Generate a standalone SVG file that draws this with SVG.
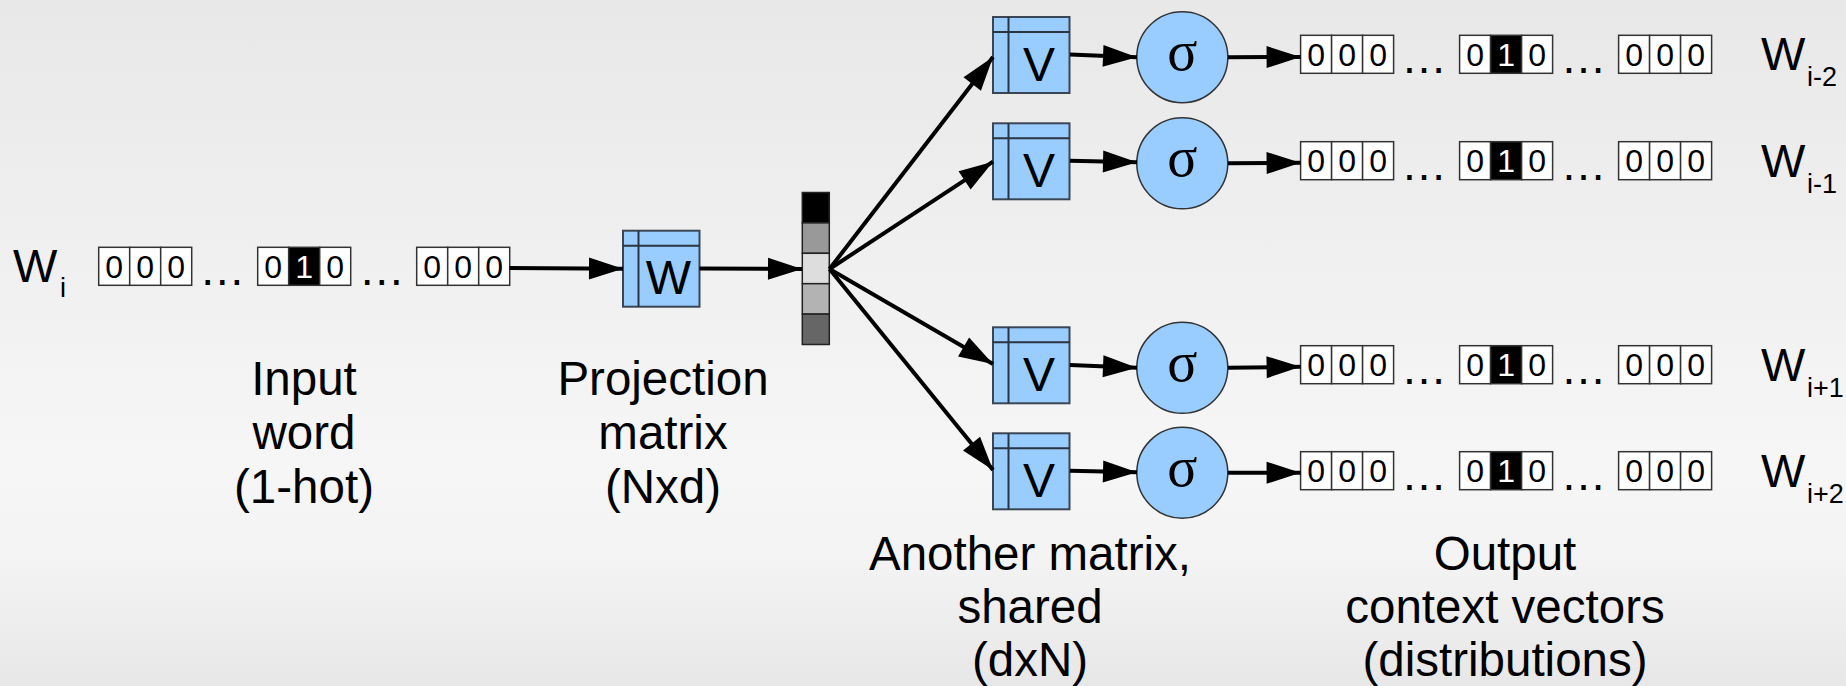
<svg xmlns="http://www.w3.org/2000/svg" xmlns:xlink="http://www.w3.org/1999/xlink" width="1846" height="686" viewBox="0 0 1846 686">
<style>
.t{font-family:"Liberation Sans",Arial,sans-serif;fill:#000}
.big{font-size:47px}
.sub{font-size:27px}
.lbl{font-size:47.5px;text-anchor:middle}
.dig{font-family:"Liberation Sans",Arial,sans-serif;font-size:32px;text-anchor:middle}
.cell{fill:#fff;stroke:#333;stroke-width:1.5}
.hot{fill:#000;stroke:#333;stroke-width:1.5}
.mat{fill:#99ccff;stroke:#3a4654;stroke-width:2}
.matl{stroke:#2a3440;stroke-width:2;fill:none}
.mletter{font-family:"Liberation Sans",Arial,sans-serif;font-size:48px;text-anchor:middle}
.sig{fill:#99ccff;stroke:#333;stroke-width:1.5}
.sigt{font-family:"Liberation Serif","Times New Roman",serif;font-size:56px;text-anchor:middle}
.arr{stroke:#000;stroke-width:4;fill:none;marker-end:url(#ah)}
.dots{font-family:"Liberation Sans",Arial,sans-serif;font-size:46px;text-anchor:middle}
</style>
<defs>
<linearGradient id="bg" x1="0" y1="0" x2="0" y2="1">
<stop offset="0" stop-color="#e8e8e8"/>
<stop offset="0.68" stop-color="#f6f6f6"/>
<stop offset="0.82" stop-color="#f3f3f3"/>
<stop offset="1" stop-color="#e7e7e7"/>
</linearGradient>
<marker id="ah" markerUnits="userSpaceOnUse" markerWidth="36" markerHeight="24" refX="34" refY="11" orient="auto" overflow="visible">
<path d="M0,0 L34,11 L0,22 Z" fill="#000"/>
</marker>
<g id="onehot">
<rect class="cell" x="0" y="0" width="31" height="38"/>
<rect class="cell" x="31" y="0" width="31" height="38"/>
<rect class="cell" x="62" y="0" width="31" height="38"/>
<text class="dig" x="15.5" y="30.5">0</text>
<text class="dig" x="46.5" y="30.5">0</text>
<text class="dig" x="77.5" y="30.5">0</text>
<text class="dots" x="123.5" y="38">…</text>
<rect class="cell" x="159" y="0" width="31" height="38"/>
<rect class="hot" x="190" y="0" width="31" height="38"/>
<rect class="cell" x="221" y="0" width="31" height="38"/>
<text class="dig" x="174.5" y="30.5">0</text>
<text class="dig" x="205.5" y="30.5" fill="#fff">1</text>
<text class="dig" x="236.5" y="30.5">0</text>
<text class="dots" x="283" y="38">…</text>
<rect class="cell" x="318" y="0" width="31" height="38"/>
<rect class="cell" x="349" y="0" width="31" height="38"/>
<rect class="cell" x="380" y="0" width="31" height="38"/>
<text class="dig" x="333.5" y="30.5">0</text>
<text class="dig" x="364.5" y="30.5">0</text>
<text class="dig" x="395.5" y="30.5">0</text>
</g>
<g id="vmat">
<rect class="mat" x="0" y="0" width="76.5" height="76"/>
<line class="matl" x1="15.5" y1="0" x2="15.5" y2="76"/>
<line class="matl" x1="0" y1="15" x2="76.5" y2="15"/>
</g>
</defs>
<rect x="0" y="0" width="1846" height="686" fill="url(#bg)"/>

<g id="input-label">
<text class="t big" x="13" y="282">W</text>
<text class="t sub" x="60" y="297">i</text>
</g>
<g id="input-vector">
<use xlink:href="#onehot" x="98.7" y="247.3"/>
</g>

<g id="W-matrix">
<use xlink:href="#vmat" x="623" y="230.7"/>
<text class="mletter" x="668.5" y="293.5">W</text>
</g>

<g id="projection-vector">
<rect x="802.3" y="192.5" width="27" height="30.4" fill="#000" stroke="#222" stroke-width="1.5"/>
<rect x="802.3" y="222.9" width="27" height="30.4" fill="#999" stroke="#222" stroke-width="1.5"/>
<rect x="802.3" y="253.3" width="27" height="30.4" fill="#ddd" stroke="#222" stroke-width="1.5"/>
<rect x="802.3" y="283.7" width="27" height="30.4" fill="#b3b3b3" stroke="#222" stroke-width="1.5"/>
<rect x="802.3" y="314.1" width="27" height="30.4" fill="#666" stroke="#222" stroke-width="1.5"/>
</g>

<g id="V1"><use xlink:href="#vmat" x="993" y="17"/><text class="mletter" x="1039" y="80.5">V</text></g>
<g id="V2"><use xlink:href="#vmat" x="993" y="123.3"/><text class="mletter" x="1039" y="186.8">V</text></g>
<g id="V3"><use xlink:href="#vmat" x="993" y="327.3"/><text class="mletter" x="1039" y="390.8">V</text></g>
<g id="V4"><use xlink:href="#vmat" x="993" y="433.3"/><text class="mletter" x="1039" y="496.8">V</text></g>

<g id="sigma1"><circle class="sig" cx="1182.3" cy="57.2" r="45.5"/><text class="sigt" x="1182.3" y="70">σ</text></g>
<g id="sigma2"><circle class="sig" cx="1182.3" cy="163.3" r="45.5"/><text class="sigt" x="1182.3" y="176">σ</text></g>
<g id="sigma3"><circle class="sig" cx="1182.3" cy="367.8" r="45.5"/><text class="sigt" x="1182.3" y="380.6">σ</text></g>
<g id="sigma4"><circle class="sig" cx="1182.3" cy="472.8" r="45.5"/><text class="sigt" x="1182.3" y="485.6">σ</text></g>

<g id="out1"><use xlink:href="#onehot" x="1300.6" y="35.3"/><text class="t big" x="1761" y="70">W</text><text class="t sub" x="1807" y="86">i-2</text></g>
<g id="out2"><use xlink:href="#onehot" x="1300.6" y="141.7"/><text class="t big" x="1761" y="176.5">W</text><text class="t sub" x="1807" y="192.5">i-1</text></g>
<g id="out3"><use xlink:href="#onehot" x="1300.6" y="345.7"/><text class="t big" x="1761" y="380.5">W</text><text class="t sub" x="1807" y="396.5">i+1</text></g>
<g id="out4"><use xlink:href="#onehot" x="1300.6" y="451.7"/><text class="t big" x="1761" y="486.5">W</text><text class="t sub" x="1807" y="502.5">i+2</text></g>

<g id="connectors">
<line class="arr" x1="509.5" y1="268" x2="623" y2="268.7"/>
<line class="arr" x1="699.5" y1="268.5" x2="802" y2="269"/>
<line class="arr" x1="829.5" y1="269" x2="993" y2="57"/>
<line class="arr" x1="829.5" y1="269" x2="993" y2="161.7"/>
<line class="arr" x1="829.5" y1="269" x2="993" y2="364"/>
<line class="arr" x1="829.5" y1="269" x2="993" y2="470"/>
<line class="arr" x1="1070" y1="54.5" x2="1137" y2="57.3"/>
<line class="arr" x1="1070" y1="160.7" x2="1137" y2="162.3"/>
<line class="arr" x1="1070" y1="365" x2="1137" y2="367.7"/>
<line class="arr" x1="1070" y1="470.7" x2="1137" y2="472.3"/>
<line class="arr" x1="1228" y1="57.2" x2="1300.6" y2="57"/>
<line class="arr" x1="1228" y1="163.3" x2="1300.6" y2="162.7"/>
<line class="arr" x1="1228" y1="367.8" x2="1300.6" y2="366.7"/>
<line class="arr" x1="1228" y1="472.8" x2="1300.6" y2="472.7"/>
</g>

<g id="label-input">
<text class="t lbl" x="304" y="395">Input</text>
<text class="t lbl" x="304" y="449">word</text>
<text class="t lbl" x="304" y="503">(1-hot)</text>
</g>
<g id="label-projection">
<text class="t lbl" x="663" y="395">Projection</text>
<text class="t lbl" x="663" y="449">matrix</text>
<text class="t lbl" x="663" y="503">(Nxd)</text>
</g>
<g id="label-another">
<text class="t lbl" x="1030" y="570">Another matrix,</text>
<text class="t lbl" x="1030" y="623">shared</text>
<text class="t lbl" x="1030" y="676">(dxN)</text>
</g>
<g id="label-output">
<text class="t lbl" x="1505" y="570">Output</text>
<text class="t lbl" x="1505" y="623">context vectors</text>
<text class="t lbl" x="1505" y="676">(distributions)</text>
</g>
</svg>
